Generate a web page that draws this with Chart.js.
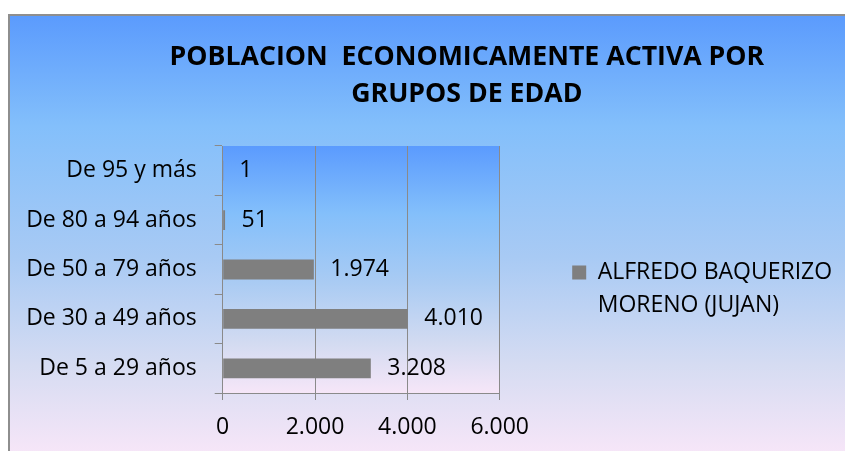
<!DOCTYPE html>
<html>
<head>
<meta charset="utf-8">
<script src="https://cdn.jsdelivr.net/npm/chart.js@4.4.1/dist/chart.umd.min.js"></script>
<style>
  html, body { margin: 0; padding: 0; background: #ffffff; width: 845px; height: 451px; overflow: hidden; }
  #frame {
    position: absolute; left: 8px; top: 14px; width: 1000px; height: 438px;
    border-left: 2px solid #8e8e8e; border-top: 2px solid #8e8e8e;
    background: linear-gradient(to bottom, #5b9bfd 0%, #83bffb 25%, #a8caf4 55%, #d6dcf2 80%, #f7e6f8 100%);
  }
  canvas { position: absolute; left: 0; top: 0; }
</style>
</head>
<body>
<div id="frame"><canvas id="c" width="900" height="438"></canvas></div>
<script>
// ---- data ----
const categories = ["De 5 a 29 años", "De 30 a 49 años", "De 50 a 79 años", "De 80 a 94 años", "De 95 y más"];
const values = [3208, 4010, 1974, 51, 1];
const seriesName = ["ALFREDO BAQUERIZO", "MORENO (JUJAN)"];
const titleLines = ["POBLACION  ECONOMICAMENTE ACTIVA POR", "GRUPOS DE EDAD"];
const xTickValues = [0, 2000, 4000, 6000];

// ---- styling / layout constants ----
const FONT = '"Open Sans", "Liberation Sans", sans-serif';
const FS = 23;
const BAR_COLOR = '#7f7f7f';
const GRID_COLOR = '#8a8a8a';
const CANVAS_H = 438;
const PLOT_LEFT = 212.7, PLOT_RIGHT = 490, TITLE_CENTER = 457;
const LEGEND_PAD = 72.5, LEGEND_BOX = 14;
const Y_TICK_LEN = 8, Y_TICK_PAD = 18;

const fmt = v => String(v).replace(/\B(?=(\d{3})+(?!\d))/g, '.');

const mctx = document.createElement('canvas').getContext('2d');
mctx.font = FS + 'px ' + FONT;
const catW = Math.max(...categories.map(c => mctx.measureText(c).width));
const yAxisW = Math.ceil(catW) + 2 + Y_TICK_LEN + Y_TICK_PAD;
const padL = PLOT_LEFT - yAxisW;
const canvasW = 2 * TITLE_CENTER - padL;
const longest = seriesName.reduce((a, b) => (a.length > b.length ? a : b));
const itemW = LEGEND_BOX + FS / 2 + mctx.measureText(longest).width;
const legendW = LEGEND_PAD + itemW + 10;
const spacerW = canvasW - PLOT_RIGHT - legendW;

const cv = document.getElementById('c');
cv.width = Math.round(canvasW);
cv.height = CANVAS_H;

const plotBackground = {
  id: 'plotBackground',
  beforeDraw(chart) {
    const { ctx, chartArea: a } = chart;
    const g = ctx.createLinearGradient(0, a.top, 0, a.bottom);
    g.addColorStop(0, '#5b9bfe');
    g.addColorStop(0.27, '#83bffb');
    g.addColorStop(0.55, '#a9cbf3');
    g.addColorStop(0.8, '#d3dbf1');
    g.addColorStop(1, '#f6e6f8');
    ctx.save();
    ctx.fillStyle = g;
    ctx.fillRect(a.left, a.top, a.right - a.left, a.bottom - a.top);
    ctx.restore();
  }
};

const valueLabels = {
  id: 'valueLabels',
  afterDatasetsDraw(chart) {
    const { ctx } = chart;
    const meta = chart.getDatasetMeta(0);
    ctx.save();
    ctx.font = FS + 'px ' + FONT;
    ctx.fillStyle = '#000000';
    ctx.textAlign = 'left';
    ctx.textBaseline = 'middle';
    meta.data.forEach((el, i) => {
      ctx.fillText(fmt(chart.data.datasets[0].data[i]), el.x + 16.5, el.y);
    });
    ctx.restore();
  }
};

new Chart(cv, {
  type: 'bar',
  data: {
    labels: categories,
    datasets: [{
      label: seriesName.join(' '),
      data: values,
      backgroundColor: BAR_COLOR,
      borderWidth: 0,
      categoryPercentage: 1,
      barPercentage: 0.4
    }]
  },
  options: {
    indexAxis: 'y',
    responsive: false,
    animation: false,
    devicePixelRatio: 1,
    layout: { padding: { left: padL, right: 0, top: 0, bottom: 0 } },
    scales: {
      x: {
        type: 'linear',
        min: 0,
        max: 6000,
        afterBuildTicks: s => { s.ticks = xTickValues.map(v => ({ value: v })); },
        grid: { color: GRID_COLOR, lineWidth: 1, tickLength: 7, drawTicks: true },
        border: { color: GRID_COLOR, width: 1 },
        ticks: {
          color: '#000000',
          font: { family: FONT, size: FS },
          padding: 13.2,
          maxRotation: 0,
          callback: v => fmt(v)
        }
      },
      y: {
        type: 'category',
        reverse: true,
        offset: true,
        grid: { offset: true, drawOnChartArea: false, color: GRID_COLOR, tickLength: Y_TICK_LEN },
        border: { color: GRID_COLOR, width: 1 },
        ticks: { color: '#000000', font: { family: FONT, size: FS }, padding: Y_TICK_PAD },
        afterFit: s => { s.width = yAxisW; }
      },
      spacer: {
        type: 'linear',
        position: 'right',
        weight: 2000,
        display: true,
        grid: { display: false, drawTicks: false },
        border: { display: false },
        ticks: { display: false },
        afterFit: s => { s.width = spacerW; }
      }
    },
    plugins: {
      title: {
        display: true,
        text: titleLines,
        color: '#000000',
        font: { family: FONT, size: 26.7, weight: 'bold', lineHeight: '37px' },
        padding: { top: 23, bottom: 33 }
      },
      legend: {
        display: true,
        position: 'right',
        align: 'center',
        fullSize: false,
        maxWidth: 2000,
        title: { display: true, text: ' ', padding: { top: 39, bottom: 0 }, font: { size: 10, lineHeight: '10px' } },
        labels: {
          color: '#000000',
          font: { family: FONT, size: FS, lineHeight: '33px' },
          boxWidth: LEGEND_BOX,
          boxHeight: LEGEND_BOX,
          padding: LEGEND_PAD,
          generateLabels: () => [{
            text: seriesName,
            fillStyle: BAR_COLOR,
            strokeStyle: BAR_COLOR,
            fontColor: '#000000',
            lineWidth: 0,
            hidden: false,
            datasetIndex: 0
          }]
        }
      },
      tooltip: { enabled: false }
    }
  },
  plugins: [plotBackground, valueLabels]
});
</script>
</body>
</html>
